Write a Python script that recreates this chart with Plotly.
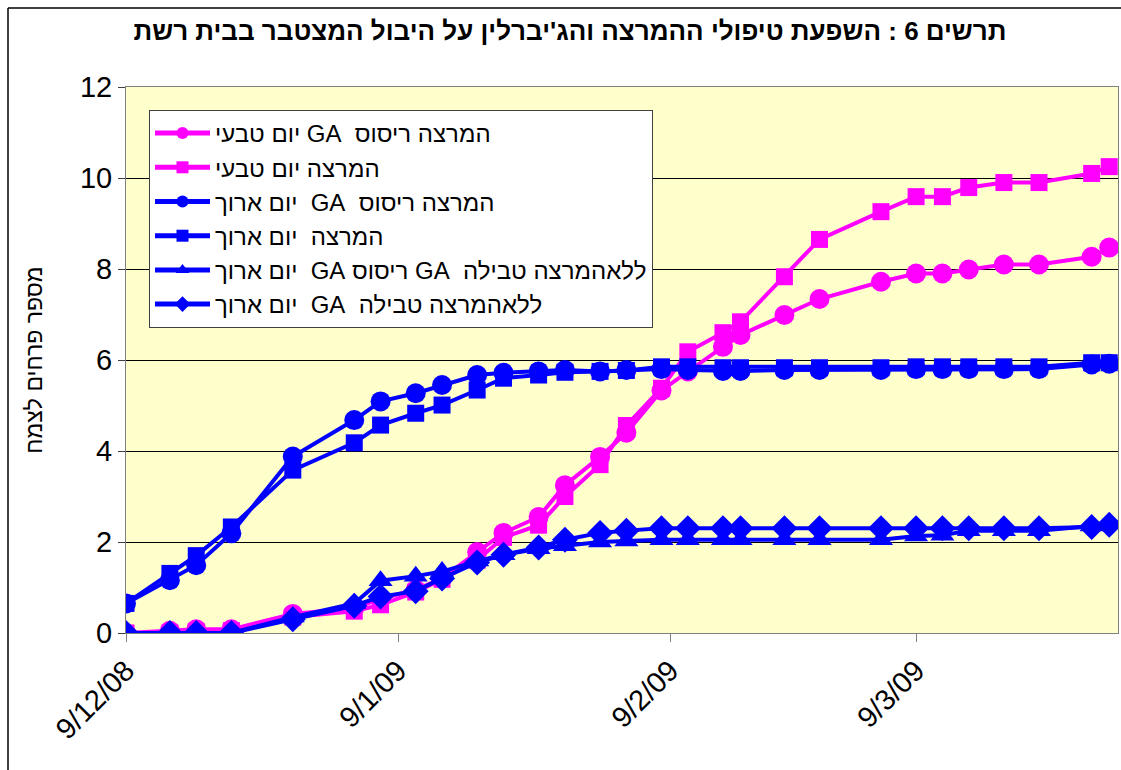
import plotly.graph_objects as go

dates = ["2008-12-09", "2008-12-14", "2008-12-17", "2008-12-21", "2008-12-28",
         "2009-01-04", "2009-01-07", "2009-01-11", "2009-01-14", "2009-01-18",
         "2009-01-21", "2009-01-25", "2009-01-28", "2009-02-01", "2009-02-04",
         "2009-02-08", "2009-02-11", "2009-02-15", "2009-02-17", "2009-02-22",
         "2009-02-26", "2009-03-05", "2009-03-09", "2009-03-12", "2009-03-15",
         "2009-03-19", "2009-03-23", "2009-03-29", "2009-03-31"]

pink_circle = [0.0, 0.05, 0.08, 0.08, 0.42, 0.55, 0.75, 0.95, 1.2, 1.78,
               2.2, 2.55, 3.25, 3.87, 4.4, 5.33, 5.75, 6.29, 6.55, 6.99,
               7.34, 7.72, 7.9, 7.9, 7.99, 8.1, 8.1, 8.27, 8.47]
pink_square = [0.0, 0.0, 0.03, 0.05, 0.35, 0.48, 0.62, 0.9, 1.18, 1.6,
               2.1, 2.37, 3.0, 3.7, 4.56, 5.38, 6.18, 6.6, 6.84, 7.83,
               8.65, 9.26, 9.59, 9.59, 9.79, 9.9, 9.9, 10.1, 10.25]
blue_circle = [0.65, 1.16, 1.49, 2.19, 3.88, 4.68, 5.09, 5.27, 5.45, 5.67,
               5.72, 5.75, 5.78, 5.75, 5.78, 5.8, 5.78, 5.76, 5.76, 5.78,
               5.78, 5.78, 5.8, 5.8, 5.8, 5.8, 5.8, 5.9, 5.92]
blue_square = [0.65, 1.31, 1.7, 2.33, 3.58, 4.18, 4.57, 4.83, 5.01, 5.34,
               5.6, 5.67, 5.73, 5.75, 5.77, 5.85, 5.85, 5.83, 5.83, 5.83,
               5.83, 5.83, 5.85, 5.85, 5.85, 5.85, 5.85, 5.94, 5.94]
blue_triangle = [0.0, 0.0, 0.0, 0.0, 0.35, 0.65, 1.15, 1.25, 1.35, 1.58,
                 1.72, 1.85, 1.92, 2.0, 2.02, 2.05, 2.05, 2.05, 2.05, 2.05,
                 2.05, 2.05, 2.13, 2.15, 2.25, 2.25, 2.25, 2.35, 2.4]
blue_diamond = [0.0, 0.0, 0.0, 0.0, 0.3, 0.6, 0.8, 0.92, 1.2, 1.55,
                1.72, 1.88, 2.05, 2.2, 2.25, 2.3, 2.3, 2.3, 2.3, 2.3,
                2.3, 2.3, 2.3, 2.3, 2.3, 2.3, 2.3, 2.33, 2.38]

names = ["המרצה ריסוס  GA יום טבעי",
         "המרצה יום טבעי",
         "המרצה ריסוס  GA  יום ארוך",
         "המרצה  יום ארוך",
         "ללאהמרצה טבילה  GA ריסוס GA  יום ארוך",
         "ללאהמרצה טבילה  GA  יום ארוך"]

title_text = "תרשים 6 : השפעת טיפולי ההמרצה והג'יברלין על היבול המצטבר בבית רשת"
y_title = "מספר פרחים לצמח"

tick_dates = ["2008-12-09", "2009-01-09", "2009-02-09", "2009-03-09"]
tick_labels = ["9/12/08", "9/1/09", "9/2/09", "9/3/09"]

PINK = "#FF00FF"
BLUE = "#0000FF"

series = [
    (pink_circle, PINK, "circle", 20),
    (pink_square, PINK, "square", 17),
    (blue_circle, BLUE, "circle", 20),
    (blue_square, BLUE, "square", 17),
    (blue_triangle, BLUE, "triangle-up", 21),
    (blue_diamond, BLUE, "diamond", 20),
]

fig = go.Figure()
for i, ((vals, col, sym, sz), nm) in enumerate(zip(series, names)):
    fig.add_trace(go.Scatter(
        x=dates, y=vals, mode="lines+markers",
        name="\u202b" + nm + "\u202c",
        legendgroup="g%d" % i,
        line=dict(color=col, width=4),
        marker=dict(color=col, symbol=sym, size=sz, line=dict(width=0)),
    ))

W, H = 1121, 770
ml, mr, mt, mb = 126, 3, 87, 137
pw = W - ml - mr
ph = H - mt - mb

def px_x(p):
    return (p - ml) / pw

def px_y(p):
    return 1 - (p - mt) / ph

fig.update_layout(
    width=W, height=H,
    margin=dict(l=ml, r=mr, t=mt, b=mb),
    paper_bgcolor="white",
    plot_bgcolor="#FFFFCC",
    font=dict(family="Liberation Sans, Arial, sans-serif", color="black"),
    title=dict(text="<b>" + title_text + "</b>", x=px_x(570), xanchor="center",
               xref="paper", y=1 - 31 / H, yanchor="middle",
               font=dict(size=26, color="black")),
    showlegend=True,
    legend=dict(x=px_x(149), y=px_y(110), xanchor="left", yanchor="top",
                bgcolor="white", bordercolor="#404040", borderwidth=1,
                font=dict(size=24, color="black"),
                traceorder="grouped", tracegroupgap=0, itemwidth=55,
                itemsizing="constant"),
    xaxis=dict(type="date", range=["2008-12-09", "2009-04-01"],
               tickvals=tick_dates, ticktext=tick_labels, tickangle=-45,
               ticks="outside", ticklen=8, tickcolor="#808080",
               tickfont=dict(size=29),
               showgrid=False, showline=True, linecolor="#808080",
               linewidth=1, mirror=True, zeroline=False),
    yaxis=dict(range=[0, 12], dtick=2, ticks="outside", ticklen=7,
               tickcolor="#404040", tickfont=dict(size=29),
               showgrid=True, gridcolor="black", gridwidth=1,
               showline=True, linecolor="#808080", linewidth=1, mirror=True,
               zeroline=False,
               title=dict(text=y_title, font=dict(size=23), standoff=30)),
    shapes=[
        dict(type="line", xref="paper", yref="paper",
             x0=px_x(8), x1=px_x(1140), y0=px_y(8), y1=px_y(8),
             line=dict(color="black", width=1.5)),
        dict(type="line", xref="paper", yref="paper",
             x0=px_x(8), x1=px_x(8), y0=px_y(8), y1=px_y(790),
             line=dict(color="black", width=1.5)),
    ],
)

fig.write_html(
    "out.html",
    config={"displayModeBar": False},
    post_script="document.body.style.margin='0';"
                "document.body.style.overflow='hidden';"
                "document.documentElement.style.overflow='hidden';",
)
